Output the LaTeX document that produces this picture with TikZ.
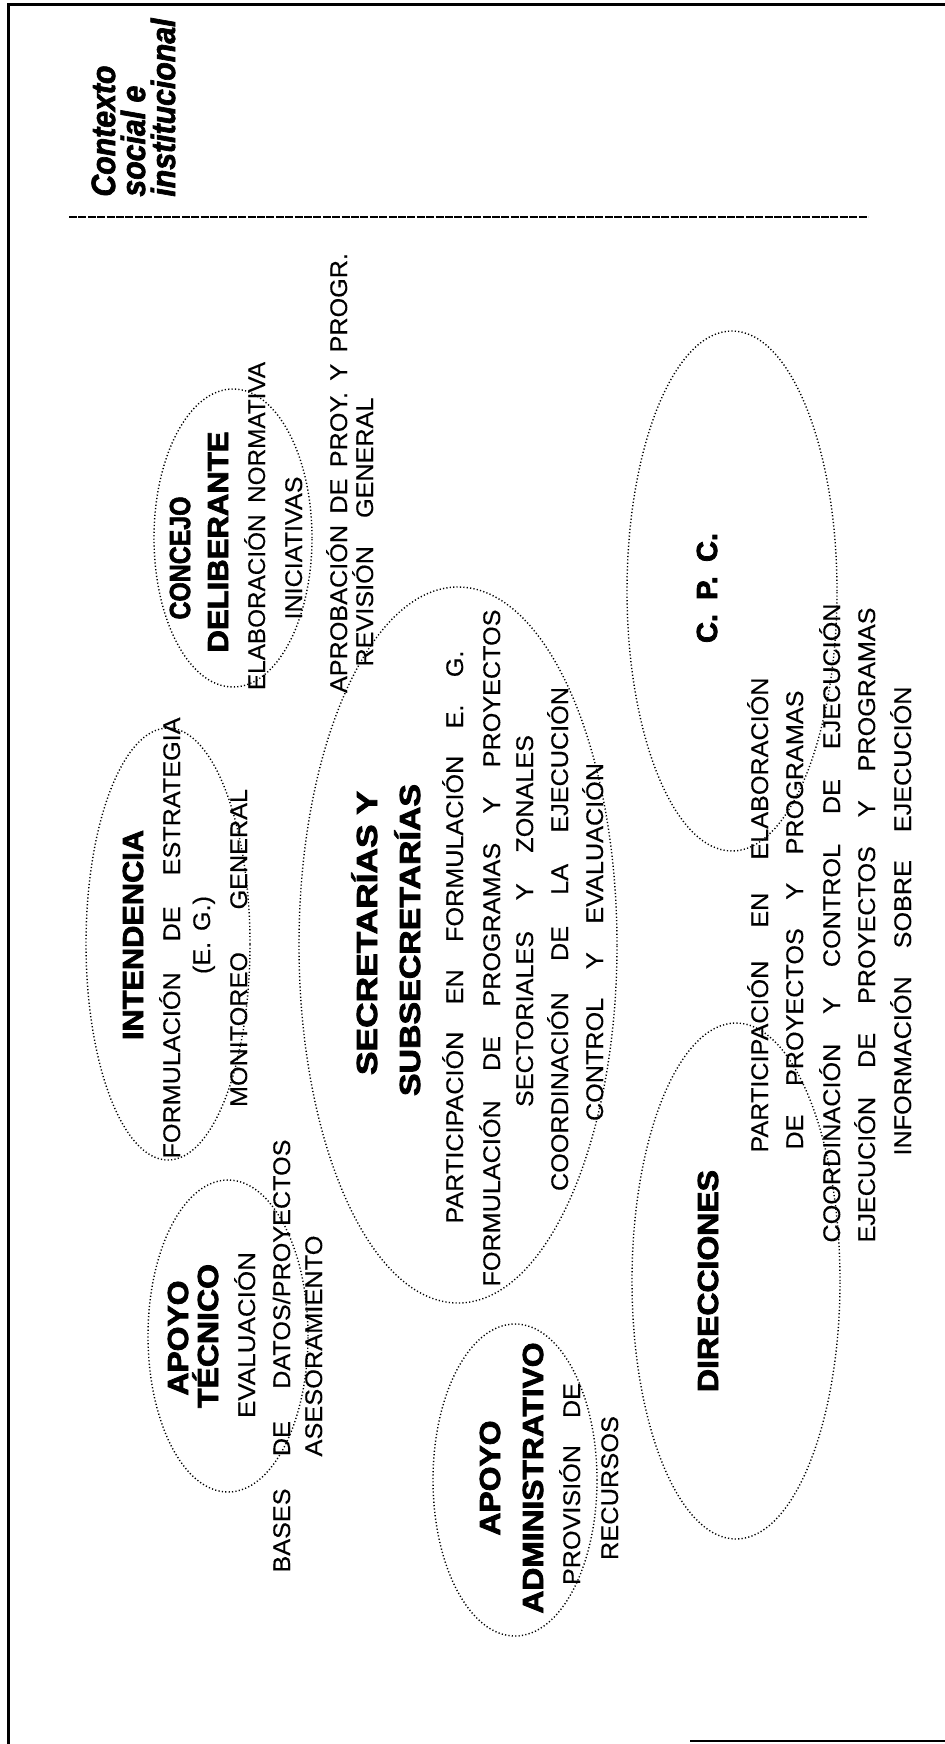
\documentclass[tikz,border=0pt]{standalone}
\usepackage{graphicx}
\usepackage{fontspec}
\setmainfont{Liberation Sans}
\newfontfamily\regf{Liberation Sans}[FakeStretch=1.05,FakeBold=0.3]
\newfontfamily\boldf{Liberation Sans}[BoldFeatures={FakeBold=2.5}]
\newfontfamily\ctxf{Liberation Sans}[BoldItalicFeatures={FakeStretch=0.9,FakeBold=2}]
\usetikzlibrary{shapes.geometric}
\newcommand\spr[2]{\makebox[#1][s]{#2}}
\newcommand\fitw[2]{\resizebox{#1}{\height}{#2}}
\begin{document}
\begin{tikzpicture}[x=0.5pt,y=-0.5pt,
  txt/.style={rotate=90,anchor=base,inner sep=0pt,font=\regf\fontsize{12}{14}\selectfont},
  ttl/.style={rotate=90,anchor=base,inner sep=0pt,font=\boldf\bfseries\fontsize{14.5}{17}\selectfont},
  ctx/.style={rotate=90,anchor=base west,inner sep=0pt,font=\ctxf\bfseries\itshape\fontsize{16.8}{20}\selectfont},
  oval/.style={ellipse,draw,inner sep=0pt,line width=0.7pt,dash pattern=on 0.6pt off 1.1pt},
  frameline/.style={line width=1.5pt},
  sepline/.style={line width=1.1pt,dash pattern=on 4pt off 0.7pt}]
\path[use as bounding box,fill=white] (0,0) rectangle (945,1744);
% frame
\coordinate (fBL) at (8,1744);
\coordinate (fTL) at (8,5);
\coordinate (fTR) at (945,5);
\draw[frameline] (fBL) -- (fTL) -- (fTR);
\coordinate (bA) at (690,1741);
\coordinate (bB) at (945,1741);
\draw[line width=0.8pt] (bA) -- (bB);
% context label and separator
\node[ctx] (cx1) at (115,197) {Contexto};
\node[ctx] (cx2) at (145,197) {social e};
\node[ctx] (cx3) at (175,197) {institucional};
\coordinate (sA) at (69,217);
\coordinate (sB) at (868,217);
\draw[sepline] (sA) -- (sB);
% Concejo deliberante
\node[oval,minimum width=79pt,minimum height=149pt] (cdE) at (233,538) {};
\node[ttl] (cd1) at (190,558) {\fitw{61.5pt}{CONCEJO}};
\node[ttl] (cd2) at (228,542) {\fitw{110.5pt}{DELIBERANTE}};
\node[txt] (cd3) at (265,526) {\fitw{164pt}{ELABORACIÓN\hspace{6pt}NORMATIVA}};
\node[txt] (cd4) at (302,548) {\fitw{71.5pt}{INICIATIVAS}};
\node[txt] (cd5) at (347,473) {\spr{220pt}{APROBACIÓN DE PROY. Y PROGR.}};
\node[txt] (cd6) at (373,532) {\spr{134.5pt}{REVISIÓN GENERAL}};
% Intendencia
\node[oval,minimum width=82pt,minimum height=216pt] (inE) at (168,944) {};
\node[ttl] (in1) at (143,935) {\fitw{105pt}{INTENDENCIA}};
\node[txt] (in2) at (180,938) {\spr{220.5pt}{FORMULACIÓN DE ESTRATEGIA}};
\node[txt] (in3) at (210,935) {\spr{39pt}{(E. G.)}};
\node[txt] (in4) at (247,948) {\spr{159pt}{MONITOREO GENERAL}};
% Secretarias
\node[oval,minimum width=159pt,minimum height=358pt] (seE) at (458,945) {};
\node[ttl] (se1) at (377,933) {\fitw{142pt}{SECRETARÍAS Y}};
\node[ttl] (se2) at (420,940) {\fitw{156pt}{SUBSECRETARÍAS}};
\node[txt] (se3) at (463,937) {\spr{286.5pt}{PARTICIPACIÓN EN FORMULACIÓN E. G.}};
\node[txt] (se4) at (500,948) {\spr{338.5pt}{FORMULACIÓN DE PROGRAMAS Y PROYECTOS}};
\node[txt] (se5) at (533,921) {\spr{186pt}{SECTORIALES Y ZONALES}};
\node[txt] (se6) at (568,939) {\spr{252pt}{COORDINACIÓN DE LA EJECUCIÓN}};
\node[txt] (se7) at (603,942) {\spr{179pt}{CONTROL Y EVALUACIÓN}};
% C.P.C.
\node[oval,minimum width=105pt,minimum height=260pt] (cpE) at (732,591) {};
\node[ttl] (cp1) at (717,588) {\spr{55pt}{C. P. C.}};
% Direcciones
\node[oval,minimum width=104pt,minimum height=258pt] (diE) at (736,1281) {};
\node[ttl] (di1) at (718,1281) {\fitw{111pt}{DIRECCIONES}};
\node[txt] (di2) at (768,915) {\spr{237.5pt}{PARTICIPACIÓN EN ELABORACIÓN}};
\node[txt] (di3) at (803,920) {\spr{229.5pt}{DE PROYECTOS Y PROGRAMAS}};
\node[txt] (di4) at (840,923) {\spr{319.5pt}{COORDINACIÓN Y CONTROL DE EJECUCIÓN}};
\node[txt] (di5) at (875,925) {\spr{317.5pt}{EJECUCIÓN DE PROYECTOS Y PROGRAMAS}};
\node[txt] (di6) at (911,921) {\spr{234.5pt}{INFORMACIÓN SOBRE EJECUCIÓN}};
% Apoyo tecnico
\node[oval,minimum width=80pt,minimum height=156pt] (atE) at (228,1336) {};
\node[ttl] (at1) at (188,1338) {\fitw{57.5pt}{APOYO}};
\node[ttl] (at2) at (218,1336) {\fitw{72pt}{TÉCNICO}};
\node[txt] (at3) at (255,1335) {\fitw{83pt}{EVALUACIÓN}};
\node[txt] (at4) at (290,1356) {\spr{216.5pt}{BASES DE DATOS/PROYECTOS}};
\node[txt] (at5) at (322,1346) {\fitw{110.5pt}{ASESORAMIENTO}};
% Apoyo administrativo
\node[oval,minimum width=82pt,minimum height=156pt] (aaE) at (515,1480) {};
\node[ttl] (aa1) at (500,1478) {\fitw{57.5pt}{APOYO}};
\node[ttl] (aa2) at (543,1478) {\fitw{135.5pt}{ADMINISTRATIVO}};
\node[txt] (aa3) at (580,1484) {\spr{101pt}{PROVISIÓN DE}};
\node[txt] (aa4) at (618,1488) {\fitw{72pt}{RECURSOS}};
\end{tikzpicture}
\end{document}
